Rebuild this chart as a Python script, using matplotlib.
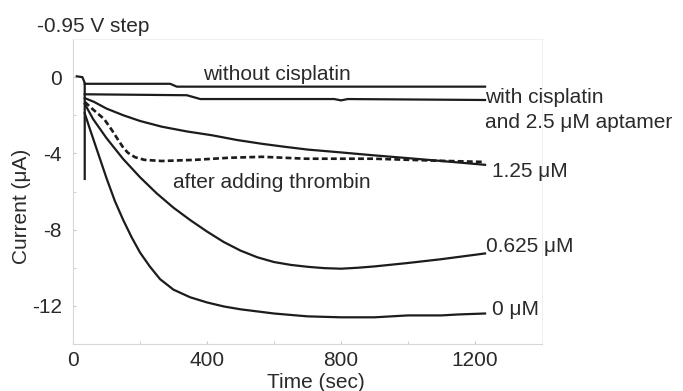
import matplotlib
matplotlib.use("Agg")
import matplotlib.pyplot as plt

plt.rcParams['font.family'] = ['Liberation Sans', 'DejaVu Sans']
plt.rcParams['axes.unicode_minus'] = False

# Data (time in s, current in uA)
step_t = [8, 28, 35, 35]
step_i = [0.05, 0.0, -0.3, -5.4]

no_cis_t = [35, 290, 310, 1230]
no_cis_i = [-0.35, -0.35, -0.5, -0.5]

apt_t = [35, 340, 380, 780, 800, 820, 1230]
apt_i = [-0.9, -0.95, -1.15, -1.15, -1.22, -1.15, -1.2]

c125_t = [35, 63, 100, 150, 200, 265, 340, 415, 490, 565, 630, 700, 800, 896, 1000, 1100, 1230]
c125_i = [-1.1, -1.3, -1.65, -2.0, -2.3, -2.6, -2.85, -3.05, -3.3, -3.5, -3.65, -3.8, -3.95, -4.1, -4.25, -4.4, -4.6]

thr_t = [35, 60, 93, 115, 135, 150, 164, 185, 213, 265, 364, 466, 565, 695, 896, 1097, 1230]
thr_i = [-1.3, -1.7, -2.2, -2.75, -3.3, -3.7, -3.97, -4.2, -4.34, -4.4, -4.34, -4.23, -4.18, -4.28, -4.28, -4.39, -4.45]

c0625_t = [35, 60, 100, 150, 200, 250, 300, 350, 400, 450, 500, 550, 600, 650, 700, 750, 800, 850, 900, 1000, 1100, 1230]
c0625_i = [-1.4, -2.2, -3.2, -4.3, -5.25, -6.1, -6.85, -7.5, -8.1, -8.65, -9.1, -9.45, -9.7, -9.85, -9.95, -10.02, -10.05, -10.0, -9.93, -9.75, -9.55, -9.25]

c0_t = [35, 50, 75, 100, 125, 150, 175, 200, 230, 260, 300, 350, 400, 450, 500, 600, 700, 800, 900, 950, 1000, 1100, 1150, 1230]
c0_i = [-1.9, -2.7, -4.0, -5.3, -6.5, -7.5, -8.4, -9.2, -9.95, -10.6, -11.15, -11.55, -11.82, -12.03, -12.18, -12.4, -12.55, -12.6, -12.6, -12.55, -12.5, -12.5, -12.45, -12.4]

xticks = [0, 400, 800, 1200]
yticks = [0, -4, -8, -12]

W, H = 683, 391
fig = plt.figure(figsize=(W / 100, H / 100), dpi=100)
ax = fig.add_axes([73 / W, 1 - 344 / H, (542 - 73) / W, (344 - 39) / H])

lc = '#1c1c1c'
lw = 1.6
ax.plot(step_t, step_i, color=lc, lw=lw, solid_capstyle='butt')
ax.plot(no_cis_t, no_cis_i, color=lc, lw=lw)
ax.plot(apt_t, apt_i, color=lc, lw=lw)
ax.plot(c125_t, c125_i, color=lc, lw=lw)
ax.plot(thr_t, thr_i, color=lc, lw=lw * 1.2, ls=(0, (2.2, 1.2)))
ax.plot(c0625_t, c0625_i, color=lc, lw=lw)
ax.plot(c0_t, c0_i, color=lc, lw=lw)

ax.set_xlim(0, 1400)
ax.set_ylim(-14, 2)
ax.set_xticks(xticks)
ax.set_xticks([200, 600, 1000, 1400], minor=True)
ax.set_yticks(yticks)
ax.set_yticks([2, -2, -6, -10, -14], minor=True)
tc = '#2a2a2a'
fs = 15
ax.tick_params(which='both', direction='in', length=2, color='#c8c8c8', labelsize=fs, labelcolor=tc)
ax.tick_params(axis='x', pad=5)
ax.tick_params(axis='y', pad=8)

for s in ['left', 'bottom']:
    ax.spines[s].set_color('#d8d8d8')
for s in ['top', 'right']:
    ax.spines[s].set_color('#f0f0f0')

fig.text(316 / W, 1 - 383 / H, 'Time (sec)', fontsize=fs, color=tc, va='center', ha='center')
fig.text(22 / W, 1 - 206 / H, 'Current (\u03bcA)', fontsize=fs, color=tc, va='center', ha='center', rotation=90)

def lab(x, yb, s):
    fig.text(x / W, 1 - yb / H, s, fontsize=fs, color=tc, va='baseline', ha='left')

lab(37, 32, '-0.95 V step')
lab(203, 80, 'without cisplatin')
lab(485, 103, 'with cisplatin')
lab(485, 128, 'and 2.5 \u03bcM aptamer')
lab(173, 188, 'after adding thrombin')
lab(492, 177, '1.25 \u03bcM')
lab(486, 252, '0.625 \u03bcM')
lab(492, 315, '0 \u03bcM')

fig.savefig('out.png', dpi=100)
